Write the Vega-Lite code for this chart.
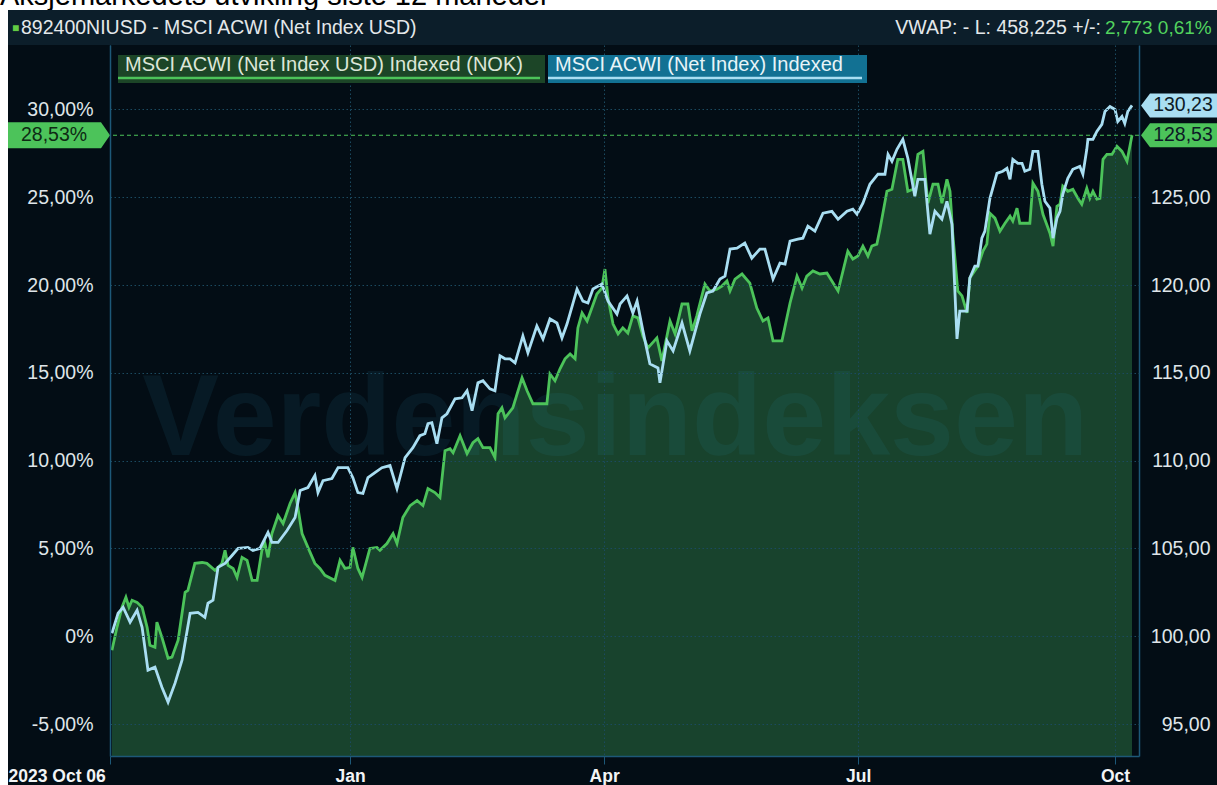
{
  "$schema": "https://vega.github.io/schema/vega-lite/v6.json",
  "background": "#030d15",
  "padding": 0,
  "spacing": 0,
  "config": {
    "view": {"stroke": null},
    "concat": {"spacing": 0},
    "font": "Liberation Sans",
    "axis": {"title": null, "labelFont": "Liberation Sans"}
  },
  "datasets": {
    "nok": [
      {"day":0.7,"pct":-0.80},{"day":2.5,"pct":0.51},{"day":4.3,"pct":1.65},{"day":5.7,"pct":2.22},{"day":6.8,"pct":1.65},{"day":7.9,"pct":2.05},{"day":9.7,"pct":1.93},{"day":11.5,"pct":1.65},{"day":13.3,"pct":0.51},{"day":14.3,"pct":-0.51},{"day":16.1,"pct":-0.63},{"day":16.8,"pct":0.80},{"day":18.6,"pct":-0.06},{"day":20.8,"pct":-1.25},{"day":22.2,"pct":-1.19},{"day":24.4,"pct":-0.23},{"day":26.9,"pct":2.50},{"day":27.9,"pct":2.61},{"day":30.4,"pct":4.15},{"day":33.0,"pct":4.20},{"day":34.7,"pct":4.15},{"day":37.6,"pct":3.75},{"day":40.1,"pct":4.15},{"day":41.2,"pct":4.89},{"day":42.3,"pct":4.03},{"day":44.1,"pct":3.86},{"day":45.5,"pct":3.35},{"day":47.3,"pct":4.49},{"day":49.1,"pct":4.32},{"day":50.9,"pct":3.18},{"day":52.7,"pct":3.18},{"day":54.4,"pct":4.89},{"day":55.5,"pct":5.28},{"day":56.6,"pct":4.49},{"day":58.0,"pct":5.85},{"day":60.2,"pct":6.88},{"day":62.0,"pct":6.42},{"day":64.5,"pct":7.56},{"day":66.3,"pct":8.18},{"day":67.3,"pct":7.33},{"day":68.8,"pct":5.85},{"day":70.9,"pct":5.06},{"day":73.4,"pct":4.15},{"day":75.2,"pct":3.86},{"day":77.0,"pct":3.47},{"day":80.6,"pct":3.18},{"day":82.4,"pct":4.32},{"day":84.2,"pct":3.86},{"day":86.0,"pct":3.92},{"day":87.0,"pct":5.06},{"day":88.8,"pct":3.86},{"day":90.3,"pct":3.35},{"day":93.1,"pct":5.00},{"day":95.6,"pct":5.06},{"day":96.7,"pct":4.89},{"day":99.2,"pct":5.28},{"day":101.4,"pct":5.85},{"day":102.8,"pct":5.28},{"day":104.9,"pct":6.76},{"day":107.5,"pct":7.44},{"day":110.0,"pct":7.73},{"day":112.1,"pct":7.44},{"day":113.9,"pct":8.41},{"day":116.4,"pct":8.18},{"day":118.2,"pct":7.90},{"day":120.0,"pct":10.57},{"day":121.8,"pct":10.68},{"day":122.9,"pct":10.45},{"day":125.4,"pct":11.42},{"day":127.9,"pct":10.40},{"day":130.0,"pct":11.02},{"day":131.8,"pct":11.25},{"day":133.6,"pct":10.74},{"day":136.1,"pct":10.74},{"day":137.9,"pct":10.17},{"day":139.0,"pct":12.67},{"day":140.4,"pct":13.01},{"day":141.5,"pct":12.44},{"day":144.3,"pct":13.01},{"day":147.6,"pct":14.72},{"day":149.4,"pct":13.98},{"day":151.5,"pct":13.24},{"day":154.0,"pct":13.24},{"day":156.5,"pct":13.24},{"day":157.6,"pct":14.94},{"day":159.4,"pct":14.55},{"day":161.2,"pct":15.23},{"day":163.0,"pct":15.80},{"day":164.8,"pct":16.08},{"day":166.6,"pct":15.80},{"day":167.6,"pct":17.56},{"day":169.1,"pct":18.41},{"day":170.9,"pct":17.95},{"day":172.6,"pct":18.69},{"day":174.4,"pct":19.49},{"day":176.2,"pct":19.83},{"day":177.3,"pct":20.91},{"day":178.4,"pct":19.26},{"day":180.2,"pct":17.78},{"day":182.0,"pct":17.22},{"day":183.7,"pct":17.56},{"day":185.5,"pct":17.27},{"day":187.3,"pct":18.24},{"day":189.1,"pct":18.13},{"day":190.9,"pct":17.10},{"day":192.7,"pct":16.42},{"day":195.9,"pct":16.99},{"day":197.7,"pct":15.68},{"day":200.6,"pct":17.95},{"day":202.4,"pct":17.22},{"day":204.9,"pct":18.92},{"day":207.0,"pct":18.92},{"day":208.5,"pct":17.39},{"day":210.2,"pct":18.24},{"day":213.1,"pct":20.06},{"day":214.9,"pct":19.66},{"day":217.4,"pct":19.77},{"day":219.2,"pct":19.94},{"day":221.0,"pct":20.23},{"day":222.1,"pct":19.66},{"day":223.9,"pct":20.34},{"day":226.4,"pct":20.63},{"day":229.2,"pct":20.11},{"day":231.7,"pct":18.69},{"day":233.9,"pct":17.95},{"day":235.7,"pct":18.13},{"day":237.5,"pct":16.82},{"day":240.7,"pct":16.82},{"day":243.6,"pct":18.98},{"day":246.1,"pct":20.51},{"day":247.9,"pct":19.83},{"day":249.6,"pct":20.51},{"day":251.8,"pct":20.80},{"day":254.3,"pct":20.63},{"day":256.8,"pct":20.68},{"day":260.8,"pct":19.66},{"day":264.3,"pct":21.93},{"day":266.1,"pct":21.48},{"day":267.9,"pct":21.65},{"day":269.7,"pct":22.22},{"day":271.5,"pct":21.65},{"day":272.9,"pct":22.22},{"day":274.7,"pct":22.33},{"day":275.8,"pct":23.18},{"day":278.3,"pct":25.34},{"day":280.1,"pct":25.45},{"day":282.2,"pct":27.16},{"day":284.0,"pct":27.16},{"day":285.8,"pct":25.34},{"day":287.6,"pct":25.45},{"day":289.4,"pct":27.44},{"day":291.2,"pct":27.61},{"day":293.0,"pct":24.66},{"day":294.8,"pct":25.74},{"day":296.6,"pct":25.74},{"day":298.0,"pct":24.66},{"day":299.8,"pct":26.02},{"day":300.9,"pct":25.34},{"day":301.9,"pct":22.90},{"day":303.7,"pct":19.66},{"day":305.2,"pct":19.38},{"day":307.0,"pct":18.41},{"day":308.0,"pct":20.40},{"day":310.9,"pct":21.08},{"day":312.7,"pct":21.93},{"day":314.1,"pct":22.33},{"day":315.2,"pct":24.09},{"day":317.0,"pct":23.81},{"day":318.8,"pct":23.07},{"day":320.6,"pct":23.52},{"day":322.4,"pct":23.92},{"day":323.4,"pct":23.64},{"day":324.9,"pct":24.38},{"day":325.9,"pct":23.52},{"day":329.5,"pct":23.52},{"day":330.6,"pct":25.80},{"day":332.4,"pct":25.34},{"day":334.2,"pct":24.03},{"day":336.7,"pct":22.95},{"day":337.8,"pct":22.22},{"day":339.2,"pct":24.49},{"day":340.3,"pct":24.60},{"day":341.3,"pct":25.63},{"day":343.1,"pct":25.34},{"day":344.9,"pct":25.45},{"day":346.7,"pct":24.94},{"day":348.1,"pct":24.60},{"day":349.9,"pct":25.51},{"day":351.0,"pct":24.94},{"day":352.1,"pct":25.34},{"day":353.5,"pct":24.89},{"day":354.6,"pct":24.94},{"day":355.7,"pct":27.16},{"day":357.1,"pct":27.44},{"day":358.9,"pct":27.44},{"day":360.7,"pct":27.90},{"day":362.5,"pct":27.61},{"day":364.3,"pct":27.05},{"day":366.1,"pct":28.53}
    ],
    "usd": [
      {"day":0.7,"pct":0.17},{"day":2.9,"pct":1.31},{"day":4.7,"pct":1.65},{"day":7.2,"pct":0.80},{"day":9.7,"pct":1.48},{"day":11.5,"pct":0.51},{"day":13.6,"pct":-1.93},{"day":16.1,"pct":-1.76},{"day":18.6,"pct":-2.90},{"day":20.8,"pct":-3.75},{"day":23.3,"pct":-2.67},{"day":25.8,"pct":-1.36},{"day":28.7,"pct":1.31},{"day":31.5,"pct":1.36},{"day":34.0,"pct":1.08},{"day":35.1,"pct":1.88},{"day":36.9,"pct":2.05},{"day":38.7,"pct":3.92},{"day":41.2,"pct":4.15},{"day":43.7,"pct":4.60},{"day":45.9,"pct":5.00},{"day":49.4,"pct":5.06},{"day":51.2,"pct":4.89},{"day":53.7,"pct":5.00},{"day":56.6,"pct":5.91},{"day":58.0,"pct":5.34},{"day":60.2,"pct":5.34},{"day":63.4,"pct":6.02},{"day":66.3,"pct":6.76},{"day":68.1,"pct":8.30},{"day":70.9,"pct":8.47},{"day":73.4,"pct":9.15},{"day":74.5,"pct":8.18},{"day":76.3,"pct":8.86},{"day":79.5,"pct":8.98},{"day":81.7,"pct":9.60},{"day":85.2,"pct":9.60},{"day":87.0,"pct":9.03},{"day":88.8,"pct":8.18},{"day":90.6,"pct":8.13},{"day":92.4,"pct":9.03},{"day":94.9,"pct":9.32},{"day":97.4,"pct":9.60},{"day":100.3,"pct":9.72},{"day":102.8,"pct":8.41},{"day":105.7,"pct":10.17},{"day":108.5,"pct":10.74},{"day":111.0,"pct":11.42},{"day":112.8,"pct":11.53},{"day":113.9,"pct":12.10},{"day":115.3,"pct":12.16},{"day":117.1,"pct":10.97},{"day":118.9,"pct":12.44},{"day":120.7,"pct":12.67},{"day":123.6,"pct":13.52},{"day":126.1,"pct":13.58},{"day":127.9,"pct":13.98},{"day":129.7,"pct":12.84},{"day":131.8,"pct":14.43},{"day":133.6,"pct":14.55},{"day":136.1,"pct":14.09},{"day":137.9,"pct":13.98},{"day":139.7,"pct":15.97},{"day":141.5,"pct":15.80},{"day":143.3,"pct":15.80},{"day":145.1,"pct":15.57},{"day":147.9,"pct":17.10},{"day":149.7,"pct":16.14},{"day":152.9,"pct":17.67},{"day":155.1,"pct":16.93},{"day":157.6,"pct":18.07},{"day":160.1,"pct":17.84},{"day":161.9,"pct":16.99},{"day":163.7,"pct":17.78},{"day":167.3,"pct":19.77},{"day":169.4,"pct":19.09},{"day":171.2,"pct":18.98},{"day":173.0,"pct":19.77},{"day":176.2,"pct":20.06},{"day":178.4,"pct":19.09},{"day":181.6,"pct":18.35},{"day":182.7,"pct":18.92},{"day":185.2,"pct":19.38},{"day":187.3,"pct":18.41},{"day":188.8,"pct":19.09},{"day":190.9,"pct":17.39},{"day":193.4,"pct":15.51},{"day":196.3,"pct":15.28},{"day":197.0,"pct":14.43},{"day":199.5,"pct":16.82},{"day":201.7,"pct":16.25},{"day":204.9,"pct":17.84},{"day":207.7,"pct":16.25},{"day":211.3,"pct":18.35},{"day":213.8,"pct":19.55},{"day":216.0,"pct":19.66},{"day":218.5,"pct":20.34},{"day":220.3,"pct":20.51},{"day":222.1,"pct":22.05},{"day":224.6,"pct":22.10},{"day":227.4,"pct":22.39},{"day":229.9,"pct":21.53},{"day":232.8,"pct":22.05},{"day":234.6,"pct":22.05},{"day":237.5,"pct":20.34},{"day":240.0,"pct":21.25},{"day":241.8,"pct":21.19},{"day":243.6,"pct":22.50},{"day":246.4,"pct":22.61},{"day":248.2,"pct":22.67},{"day":250.0,"pct":23.35},{"day":252.5,"pct":23.07},{"day":255.4,"pct":24.09},{"day":258.6,"pct":24.20},{"day":260.8,"pct":23.75},{"day":264.0,"pct":24.20},{"day":266.1,"pct":24.32},{"day":267.6,"pct":24.03},{"day":269.7,"pct":24.66},{"day":272.2,"pct":25.74},{"day":275.1,"pct":26.31},{"day":277.6,"pct":26.31},{"day":278.7,"pct":27.44},{"day":280.1,"pct":27.05},{"day":281.9,"pct":27.73},{"day":284.0,"pct":28.30},{"day":285.8,"pct":27.22},{"day":288.3,"pct":25.06},{"day":289.4,"pct":26.02},{"day":291.9,"pct":26.02},{"day":293.7,"pct":22.90},{"day":295.5,"pct":24.20},{"day":298.0,"pct":23.75},{"day":299.8,"pct":24.77},{"day":301.6,"pct":23.47},{"day":303.4,"pct":16.93},{"day":304.4,"pct":18.52},{"day":307.0,"pct":18.52},{"day":308.0,"pct":20.40},{"day":309.8,"pct":21.08},{"day":310.9,"pct":21.08},{"day":312.3,"pct":22.67},{"day":313.4,"pct":23.07},{"day":315.2,"pct":24.94},{"day":317.7,"pct":26.36},{"day":319.8,"pct":26.48},{"day":321.3,"pct":26.65},{"day":322.4,"pct":26.02},{"day":323.4,"pct":27.16},{"day":325.2,"pct":26.93},{"day":326.7,"pct":26.93},{"day":327.7,"pct":26.48},{"day":329.5,"pct":26.59},{"day":330.6,"pct":27.61},{"day":332.4,"pct":27.61},{"day":333.8,"pct":25.74},{"day":334.9,"pct":24.77},{"day":336.7,"pct":24.38},{"day":337.8,"pct":22.67},{"day":339.2,"pct":23.81},{"day":340.3,"pct":24.20},{"day":341.3,"pct":25.17},{"day":343.1,"pct":26.08},{"day":344.9,"pct":26.59},{"day":347.4,"pct":26.76},{"day":348.5,"pct":26.31},{"day":349.9,"pct":27.73},{"day":350.3,"pct":28.30},{"day":352.1,"pct":28.30},{"day":353.5,"pct":28.75},{"day":355.3,"pct":29.15},{"day":356.4,"pct":29.89},{"day":358.2,"pct":30.17},{"day":360.0,"pct":30.00},{"day":361.0,"pct":29.32},{"day":362.5,"pct":29.60},{"day":363.5,"pct":29.20},{"day":364.6,"pct":29.89},{"day":366.1,"pct":30.23}
    ],
    "last": [
      {"series": "NOK", "pct": 28.53, "pctLabel": "28,53%", "indexLabel": "128,53"},
      {"series": "USD", "pct": 30.23, "pctLabel": "30,23%", "indexLabel": "130,23"}
    ]
  },
  "vconcat": [
    {
      "width": 1217,
      "height": 10,
      "view": {"fill": "#ffffff", "stroke": null},
      "data": {"values": [{"t": "Aksjemarkedets utvikling siste 12 måneder"}]},
      "mark": {"type": "text", "clip": true, "align": "left", "baseline": "alphabetic", "fontSize": 29, "color": "#000000", "font": "Liberation Sans"},
      "encoding": {"text": {"field": "t"}, "x": {"value": 0}, "y": {"value": 5}}
    },
    {
      "spacing": 0,
      "hconcat": [
        {
          "width": 8,
          "height": 35,
          "view": {"fill": "#ffffff", "stroke": null},
          "data": {"values": [{}]},
          "mark": {"type": "text", "text": ""},
          "encoding": {}
        },
        {
          "width": 1209,
          "height": 35,
          "view": {"fill": "#0c1e2a", "stroke": null},
          "data": {"values": [{}]},
          "layer": [
            {"mark": {"type": "text", "text": "■", "color": "#62cc44", "fontSize": 12, "align": "left", "baseline": "middle", "font": "Liberation Sans"}, "encoding": {"x": {"value": 4}, "y": {"value": 18}}},
            {"mark": {"type": "text", "text": "892400NIUSD - MSCI ACWI (Net Index USD)", "color": "#e4e8ea", "fontSize": 19.5, "align": "left", "baseline": "middle", "font": "Liberation Sans"}, "encoding": {"x": {"value": 13}, "y": {"value": 18}}},
            {"mark": {"type": "text", "text": "VWAP: -   L: 458,225   +/-:", "color": "#e4e8ea", "fontSize": 19.5, "align": "right", "baseline": "middle", "font": "Liberation Sans"}, "encoding": {"x": {"value": 1093}, "y": {"value": 18}}},
            {"mark": {"type": "text", "text": "2,773  0,61%", "color": "#52d35e", "fontSize": 19, "align": "left", "baseline": "middle", "font": "Liberation Sans"}, "encoding": {"x": {"value": 1097}, "y": {"value": 18}}}
          ]
        }
      ]
    },
    {
      "spacing": 0,
      "hconcat": [
        {
          "width": 8,
          "height": 740,
          "view": {"fill": "#ffffff", "stroke": null},
          "data": {"values": [{}]},
          "mark": {"type": "text", "text": ""},
          "encoding": {}
        },
        {
          "width": 1029,
          "height": 711,
          "view": {"stroke": null},
          "resolve": {"scale": {"y": "shared"}, "axis": {"y": "independent"}},
          "layer": [
            {
              "data": {"name": "nok"},
              "mark": {"type": "area", "color": "#18432d"},
              "encoding": {
                "x": {
                  "field": "day", "type": "quantitative",
                  "scale": {"domain": [0, 368.6], "nice": false, "zero": false},
                  "axis": {
                    "values": [0, 86, 177, 268, 360],
                    "labelExpr": "datum.value == 0 ? '2023 Oct 06' : datum.value == 86 ? 'Jan' : datum.value == 177 ? 'Apr' : datum.value == 268 ? 'Jul' : 'Oct'",
                    "grid": true, "gridDash": [1.5, 2.5], "gridColor": "#1b4a60", "gridWidth": 1,
                    "domainColor": "#1d5878", "domainWidth": 1.5,
                    "tickColor": "#1d5878", "tickSize": 8, "tickWidth": 1,
                    "labelColor": "#f2f4f5", "labelFontSize": 17.5, "labelFontWeight": "bold",
                    "labelPadding": 17, "labelBaseline": "alphabetic", "labelFlush": false, "labelOverlap": false,
                    "labelAlign": {"condition": {"test": "datum.value == 0", "value": "left"}, "value": "center"},
                    "labelOffset": {"condition": {"test": "datum.value == 0", "value": -102}, "value": 0},
                    "zindex": 1, "title": null
                  }
                },
                "y": {
                  "field": "pct", "type": "quantitative",
                  "scale": {"domain": [-6.82, 33.67], "nice": false, "zero": false},
                  "axis": {
                    "values": [-5, 0, 5, 10, 15, 20, 25, 30],
                    "labelExpr": "datum.value == 0 ? '0%' : (datum.value < 0 ? '-' : '') + replace(format(abs(datum.value), '.2f'), '.', ',') + '%'",
                    "grid": true, "gridDash": [1.5, 2.5], "gridColor": "#1b4a60", "gridWidth": 1,
                    "domainColor": "#1d5878", "domainWidth": 1.5, "ticks": false,
                    "labelPadding": 17, "labelColor": "#dfe5e9", "labelFontSize": 19.5,
                    "zindex": 1, "title": null
                  }
                },
                "y2": {"datum": -6.82}
              }
            },
            {
              "data": {"values": [{}]},
              "mark": {"type": "text", "text": "Verdensindeksen", "font": "Liberation Sans", "fontWeight": "bold", "fontSize": 115, "color": "#2a8fb0", "opacity": 0.1, "align": "center", "baseline": "alphabetic"},
              "encoding": {"x": {"datum": 181}, "y": {"datum": 10.3, "axis": null}}
            },
            {
              "data": {"name": "last"},
              "transform": [{"filter": "datum.series == 'NOK'"}],
              "mark": {"type": "rule", "color": "#4cc35a", "strokeDash": [4, 3], "strokeWidth": 1.2},
              "encoding": {"y": {"field": "pct", "type": "quantitative", "axis": null}}
            },
            {
              "data": {"name": "nok"},
              "mark": {"type": "line", "strokeWidth": 2.8},
              "encoding": {
                "x": {"field": "day", "type": "quantitative"},
                "y": {"field": "pct", "type": "quantitative", "axis": null},
                "stroke": {
                  "datum": "MSCI ACWI (Net Index USD) Indexed (NOK)",
                  "scale": {"range": ["#4cc35a"]},
                  "legend": {
                    "orient": "none", "legendX": 118, "legendY": 55, "direction": "horizontal", "title": null,
                    "fillColor": "#1c4527", "padding": 0,
                    "labelColor": "#dce6d8", "labelFont": "Liberation Sans", "labelFontSize": 20, "labelLimit": 0, "labelOffset": -13,
                    "symbolType": "M -10 13 H 412", "symbolSize": 4, "symbolStrokeWidth": 2.5
                  }
                }
              }
            },
            {
              "data": {"name": "usd"},
              "mark": {"type": "line", "strokeWidth": 2.8},
              "encoding": {
                "x": {"field": "day", "type": "quantitative"},
                "y": {
                  "field": "pct", "type": "quantitative",
                  "axis": {
                    "orient": "right",
                    "values": [-5, 0, 5, 10, 15, 20, 25],
                    "labelExpr": "replace(format(datum.value + 100, '.2f'), '.', ',')",
                    "grid": false, "domainColor": "#1d5878", "domainWidth": 1.5, "ticks": false,
                    "labelPadding": 71, "labelAlign": "right", "labelColor": "#dfe5e9", "labelFontSize": 19.5,
                    "zindex": 0, "title": null
                  }
                },
                "color": {
                  "datum": "MSCI ACWI (Net Index) Indexed",
                  "scale": {"range": ["#a9def2"]},
                  "legend": {
                    "orient": "none", "legendX": 548, "legendY": 55, "direction": "horizontal", "title": null,
                    "fillColor": "#127193", "padding": 0,
                    "labelColor": "#e8f4f8", "labelFont": "Liberation Sans", "labelFontSize": 20, "labelLimit": 0, "labelOffset": -13,
                    "symbolType": "M -10 13 H 304", "symbolSize": 4, "symbolStrokeWidth": 2.5
                  }
                }
              }
            },
            {
              "data": {"name": "last"},
              "transform": [{"filter": "datum.series == 'NOK'"}],
              "mark": {"type": "point", "shape": "M 0 0 L -9 -13 L -102 -13 L -102 13 L -9 13 Z", "size": 4, "filled": true, "opacity": 1, "color": "#4cc35a", "strokeWidth": 0},
              "encoding": {"x": {"datum": 0}, "y": {"field": "pct", "type": "quantitative", "axis": null}}
            },
            {
              "data": {"name": "last"},
              "transform": [{"filter": "datum.series == 'NOK'"}],
              "mark": {"type": "text", "align": "center", "baseline": "middle", "dx": -56, "fontSize": 19.5, "color": "#0e2a14", "font": "Liberation Sans"},
              "encoding": {"x": {"datum": 0}, "y": {"field": "pct", "type": "quantitative", "axis": null}, "text": {"field": "pctLabel"}}
            },
            {
              "data": {"name": "last"},
              "mark": {"type": "point", "shape": "M 2 0 L 11 -12 L 78 -12 L 78 12 L 11 12 Z", "size": 4, "filled": true, "opacity": 1, "strokeWidth": 0},
              "encoding": {
                "x": {"datum": 368.6},
                "y": {"field": "pct", "type": "quantitative", "axis": null},
                "fill": {"condition": {"test": "datum.series == 'NOK'", "value": "#4cc35a"}, "value": "#a9def2"}
              }
            },
            {
              "data": {"name": "last"},
              "mark": {"type": "text", "align": "center", "baseline": "middle", "dx": 44, "fontSize": 19.5, "color": "#0d1a26", "font": "Liberation Sans"},
              "encoding": {"x": {"datum": 368.6}, "y": {"field": "pct", "type": "quantitative", "axis": null}, "text": {"field": "indexLabel"}}
            }
          ]
        }
      ]
    }
  ]
}
